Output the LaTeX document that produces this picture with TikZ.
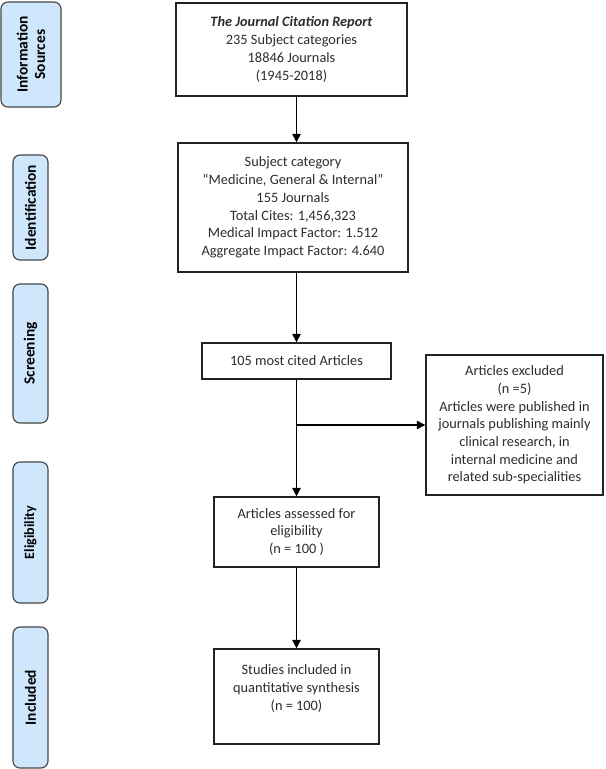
\documentclass[tikz,border=0pt]{standalone}
\usepackage{fontspec}
\setmainfont{Carlito}
\usepackage{tikz}
\usetikzlibrary{arrows.meta,positioning,calc}
\definecolor{stagefill}{RGB}{207,231,252}
\definecolor{stageline}{RGB}{70,70,70}
\definecolor{boxline}{RGB}{35,35,35}
\definecolor{boxtext}{RGB}{45,45,45}

\begin{document}
\begin{tikzpicture}[x=0.025cm,y=-0.025cm,>={Triangle[width=6pt,length=6pt]},
stage/.style={draw=stageline,fill=stagefill,line width=0.8pt,
  rounded corners=5pt,rotate=90,align=center,inner sep=1pt,
  font=\fontsize{11}{12.5}\selectfont\bfseries},
flowbox/.style={draw=boxline,line width=1pt,fill=white,align=center,
  text=boxtext,inner sep=2pt,font=\fontsize{10.2}{12.6}\selectfont},
link/.style={line width=1pt}]
\useasboundingbox (0,0) rectangle (605,769);
% stages on the left
\node[stage,minimum width=2.625cm,minimum height=1.5cm] (infosrc) at (31,54.5) {Information\\Sources};
\node[stage,minimum width=2.625cm,minimum height=0.875cm] (ident) at (30.5,207.5) {Identification};
\node[stage,minimum width=3.475cm,minimum height=0.875cm] (screen) at (30.5,353.5) {Screening};
\node[stage,minimum width=3.525cm,minimum height=0.875cm,font=\fontsize{10}{12}\selectfont\bfseries] (elig) at (30.5,532.5) {Eligibility};
\node[stage,minimum width=3.525cm,minimum height=0.875cm] (incl) at (30.5,697.5) {Included};
% flow boxes
\node[flowbox,minimum width=5.775cm,minimum height=2.325cm] (jcr) at (291.5,49.5)
  {\textbf{\textit{The Journal Citation Report}}\\235 Subject categories\\18846 Journals\\(1945-2018)};
\node[flowbox,minimum width=5.75cm,minimum height=3.225cm] (subj) at (293,207.5)
  {Subject category\\“Medicine, General \& Internal”\\155 Journals\\Total Cites: 1,456,323\\Medical Impact Factor: 1.512\\Aggregate Impact Factor: 4.640};
\node[flowbox,minimum width=4.725cm,minimum height=0.9cm] (cited) at (296.5,361) {105 most cited Articles};
\node[flowbox,minimum width=4.425cm,minimum height=3.5cm] (excl) at (514.5,425)
  {Articles excluded\\(n =5)\\Articles were published in\\journals publishing mainly\\clinical research, in\\internal medicine and\\related sub-specialities};
\node[flowbox,minimum width=4.125cm,minimum height=1.75cm] (assess) at (296.5,532)
  {Articles assessed for\\eligibility\\(n = 100 )};
\node[flowbox,minimum width=4.125cm,minimum height=2.375cm] (studies) at (296.5,696.5)
  {Studies included in\\quantitative synthesis\\(n = 100)\\ \mbox{}};
% connectors
\draw[link,->] (jcr.south -| cited.north) -- (subj.north -| cited.north);
\draw[link,->] (subj.south -| cited.north) -- (cited.north);
\draw[link,->] (cited.south) -- (assess.north);
\draw[link,->] (cited.south |- excl.west) -- (excl.west);
\draw[link,->] (assess.south) -- (studies.north);
\end{tikzpicture}
\end{document}
